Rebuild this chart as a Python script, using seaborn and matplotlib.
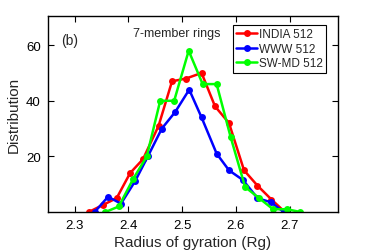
import matplotlib
matplotlib.use("Agg")
import matplotlib.pyplot as plt
import pandas as pd
import seaborn as sns

india_rg = [2.326, 2.352, 2.378, 2.403, 2.427, 2.456, 2.481, 2.507, 2.536, 2.561, 2.587, 2.615, 2.640, 2.666, 2.691]
india_val = [0, 2.5, 5, 14, 19, 31, 47, 48, 50, 38, 32, 15, 9.5, 4.5, 0]

www_rg = [2.337, 2.362, 2.386, 2.412, 2.436, 2.462, 2.487, 2.513, 2.536, 2.564, 2.587, 2.613, 2.640, 2.665, 2.689]
www_val = [0, 5.5, 3, 11, 20, 30, 36, 44, 34, 21, 15, 11.5, 5, 3.5, 0]

swmd_rg = [2.357, 2.382, 2.409, 2.434, 2.459, 2.485, 2.512, 2.538, 2.564, 2.590, 2.617, 2.643, 2.669, 2.695, 2.720]
swmd_val = [0, 2, 12, 20, 40, 40, 58, 46, 46, 27, 9, 5, 1, 1, 0]

series = ["INDIA 512", "WWW 512", "SW-MD 512"]
colors = {"INDIA 512": "#ff0000", "WWW 512": "#0000ff", "SW-MD 512": "#00ff00"}

df = pd.concat([
    pd.DataFrame({"rg": india_rg, "dist": india_val, "model": series[0]}),
    pd.DataFrame({"rg": www_rg, "dist": www_val, "model": series[1]}),
    pd.DataFrame({"rg": swmd_rg, "dist": swmd_val, "model": series[2]}),
])

sns.set_theme(style="ticks")
plt.rcParams["font.family"] = ["Liberation Sans", "DejaVu Sans"]

fig = plt.figure(figsize=(3.74, 2.53), dpi=100)
ax = fig.add_axes([0.128, 0.158, 0.776, 0.775])

sns.lineplot(data=df, x="rg", y="dist", hue="model", hue_order=series,
             palette=colors, marker="o", markersize=5, markeredgewidth=0,
             linewidth=1.8, sort=False, ax=ax)

ax.set_xlim(2.25, 2.79)
ax.set_ylim(0, 70.5)
ax.set_xticks([2.3, 2.4, 2.5, 2.6, 2.7])
ax.set_yticks([20, 40, 60])
ax.tick_params(direction="in", top=True, right=True, labelsize=9.5,
               length=4, width=0.8, colors="black", pad=5)
for s in ax.spines.values():
    s.set_linewidth(1.0)
    s.set_color("black")
ax.set_xlabel("Radius of gyration (Rg)", fontsize=11, labelpad=3)
ax.set_ylabel("Distribution", fontsize=11, labelpad=4)

ax.text(0.045, 0.855, "(b)", transform=ax.transAxes, fontsize=10)
ax.text(0.295, 0.90, "7-member rings", transform=ax.transAxes, fontsize=9)

leg = ax.legend(loc="upper right", bbox_to_anchor=(0.96, 0.955), fontsize=8.5,
                frameon=True, fancybox=False, handlelength=1.8,
                handletextpad=0.15, borderpad=0.3, labelspacing=0.2,
                borderaxespad=0)
leg.get_frame().set_edgecolor("black")
leg.get_frame().set_linewidth(0.8)
leg.get_frame().set_alpha(1)
leg.set_title(None)

fig.savefig("out.png", dpi=100)
